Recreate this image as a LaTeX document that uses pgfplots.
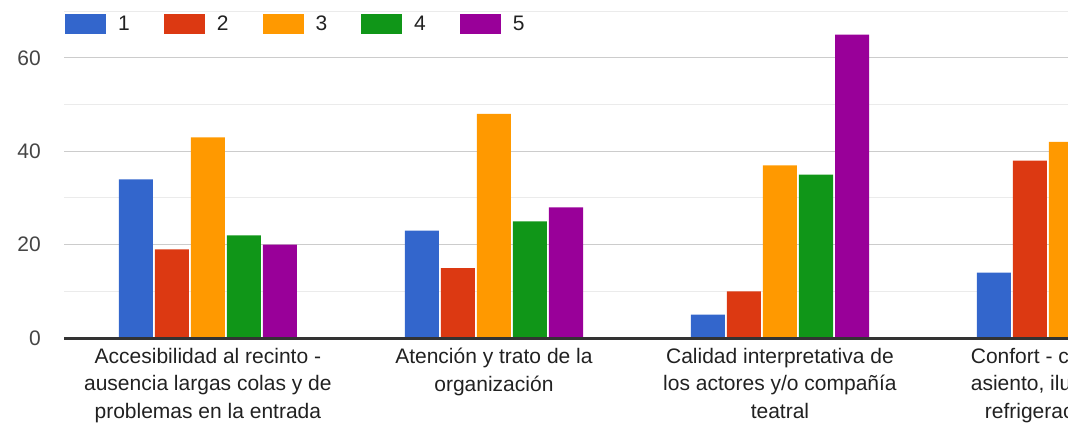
\documentclass[border=0pt]{standalone}
\usepackage{fontspec}
\setmainfont{Liberation Sans}
\usepackage{pgfplots}
\pgfplotsset{compat=1.18}
\definecolor{c1}{HTML}{3366CC}
\definecolor{c2}{HTML}{DC3912}
\definecolor{c3}{HTML}{FF9900}
\definecolor{c4}{HTML}{109618}
\definecolor{c5}{HTML}{990099}
\pgfplotsset{mylegend/.style={legend image code/.code={\fill[##1,draw=none] (0pt,-10pt) rectangle (41pt,10pt);}}}
\begin{document}
\begin{tikzpicture}
\path[use as bounding box] (0,0) rectangle (1068pt,-426pt);
\begin{axis}[
  at={(64pt,-338pt)}, anchor=south west,
  scale only axis, width=1004pt, height=326.7pt,
  xmin=-0.503, xmax=3.007, ymin=0, ymax=70,
  clip=false,
  ybar, bar width=0.119,
  axis line style={draw=none},
  major tick length=0pt, minor tick length=0pt,
  /pgf/number format/assume math mode=true,
  xtick={0,1,2,3},
  xticklabels={{Accesibilidad al recinto -\\ausencia largas colas y de\\problemas en la entrada},
               {Atención y trato de la\\organización},
               {Calidad interpretativa de\\los actores y/o compañía\\teatral},
               {Confort - comodidad\\asiento, iluminación,\\refrigeración, etc.}},
  xticklabel style={align=center, font=\fontsize{21}{27.5}\selectfont, text=black!87, inner sep=0pt, yshift=-10pt},
  ytick={0,20,40,60}, minor ytick={10,30,50,70},
  yticklabel style={font=\fontsize{21}{25}\selectfont, text=black!73, anchor=east, inner sep=0pt, xshift=-23pt},
  ymajorgrids, yminorgrids,
  major grid style={draw=black!20, line width=1pt},
  minor grid style={draw=black!8, line width=1pt},
  legend columns=5,
  legend style={at={(0,0.961)}, anchor=west, xshift=1pt, draw=none, fill=none, inner sep=0pt,
    font=\fontsize{21}{25}\selectfont, text=black!87,
    /tikz/every odd column/.append style={column sep=10pt},
    /tikz/every even column/.append style={column sep=32pt}},
]
\addplot[fill=c1, draw=none, bar shift=-0.252, mylegend] coordinates {(0,34) (1,23) (2,5) (3,14)};
\addplot[fill=c2, draw=none, bar shift=-0.126, mylegend] coordinates {(0,19) (1,15) (2,10) (3,38)};
\addplot[fill=c3, draw=none, bar shift=0, mylegend] coordinates {(0,43) (1,48) (2,37) (3,42)};
\addplot[fill=c4, draw=none, bar shift=0.126, mylegend] coordinates {(0,22) (1,25) (2,35)};
\addplot[fill=c5, draw=none, bar shift=0.252, mylegend] coordinates {(0,20) (1,28) (2,65)};
\legend{1,2,3,4,5}
\draw[draw=black!80, line width=3pt] (rel axis cs:0,0) -- (rel axis cs:1,0);
\end{axis}
\end{tikzpicture}
\end{document}
